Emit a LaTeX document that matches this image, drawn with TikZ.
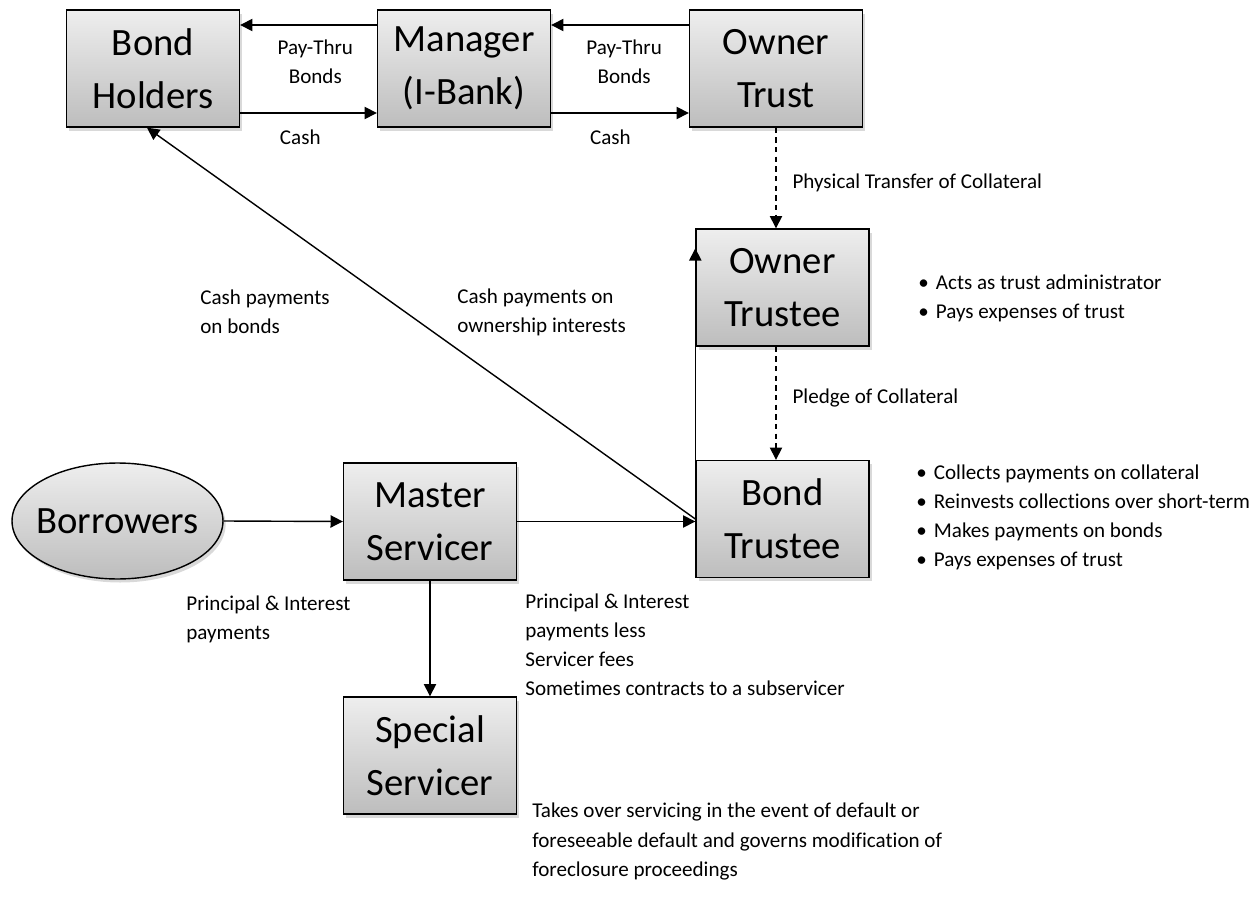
\documentclass[tikz,border=0pt]{standalone}
\usepackage{fontspec}
\setmainfont{Carlito}[Ligatures=NoCommon]
\usetikzlibrary{calc,positioning,shapes.geometric,arrows.meta,shadows}
\definecolor{boxtop}{HTML}{EEEEEE}
\definecolor{boxbot}{HTML}{BDBDBD}

\begin{document}
\begin{tikzpicture}[x=0.02cm, y=-0.02cm,
  ent/.style={draw, line width=0.8pt, top color=boxtop, bottom color=boxbot, minimum width=3.46cm, minimum height=2.34cm, inner sep=0pt, align=center, font=\fontsize{22}{30}\selectfont, drop shadow={shadow xshift=1.5pt, shadow yshift=-2pt, opacity=0.3}},
  arrow/.style={-{Triangle[length=7pt,width=7pt]}, line width=0.8pt},
  dsh/.style={arrow, dash pattern=on 3pt off 2.5pt},
  lab/.style={font=\fontsize{12}{16.6}\selectfont, inner sep=0pt, align=left}
]
\useasboundingbox (0,0) rectangle (1258,909);

\node[ent] (bh) at (153,68.5) {Bond\\Holders};
\node[ent] (mgr) at (464,68.5) {Manager\\(I-Bank)};
\node[ent] (otr) at (776,68.5) {Owner\\Trust};
\node[ent] (ote) at (782.5,287.5) {Owner\\Trustee};
\node[ent] (btr) at (782.5,519) {Bond\\Trustee};
\node[ent] (ms) at (430,521.5) {Master\\Servicer};
\node[ent] (ss) at (430,755.5) {Special\\Servicer};
\node[ent, ellipse, minimum width=4.22cm, minimum height=2.32cm] (bor) at (117.5,521) {\makebox[2.6cm]{Borrowers}};

\draw[arrow] ([yshift=0.87cm]mgr.west) -- node[lab, align=center, pos=0.45, below=8pt]{Pay-Thru\\Bonds} ([yshift=0.87cm]bh.east);
\draw[arrow] ([yshift=-0.89cm]bh.east) -- node[lab, pos=0.44, below=9pt]{Cash} ([yshift=-0.89cm]mgr.west);
\draw[arrow] ([yshift=0.87cm]otr.west) -- node[lab, align=center, pos=0.47, below=8pt]{Pay-Thru\\Bonds} ([yshift=0.87cm]mgr.east);
\draw[arrow] ([yshift=-0.89cm]mgr.east) -- node[lab, pos=0.43, below=9pt]{Cash} ([yshift=-0.89cm]otr.west);
\draw[dsh] (otr.south) -- node[lab, pos=0.55, right=9pt]{Physical Transfer of Collateral} (otr.south |- ote.north);
\draw[dsh] (ote.south -| otr.south) -- node[lab, pos=0.45, right=9pt]{Pledge of Collateral} (btr.north -| otr.south);
\draw[arrow] (btr.north west) -- ([yshift=-0.4cm]ote.north west);
\draw[arrow] (bor.east) -- (ms.west);
\draw[arrow] (ms.east) -- (ms.east -| btr.west);
\draw[arrow] (btr.west) -- ($(bh.south)+(-6,0)$);
\draw[arrow] (ms.south) -- (ss.north);

\node[lab, anchor=west] (cpb) at (200,312) {Cash payments\\on bonds};
\node[lab, anchor=west] (cpo) at (457,312) {Cash payments on\\ownership interests};
\node[lab, anchor=west] (pi) at (186,619) {Principal \& Interest\\payments};
\node[lab, anchor=west] (pil) at (525,645) {Principal \& Interest\\payments less\\Servicer fees\\Sometimes contracts to a subservicer};
\node[lab, anchor=west] (otenote) at (918,298) {\textbullet\hspace{4pt}Acts as trust administrator\\\textbullet\hspace{4pt}Pays expenses of trust};
\node[lab, anchor=west] (btrnote) at (916,517.5) {\textbullet\hspace{4pt}Collects payments on collateral\\\textbullet\hspace{4pt}Reinvests collections over short-term\\\textbullet\hspace{4pt}Makes payments on bonds\\\textbullet\hspace{4pt}Pays expenses of trust};
\node[lab, anchor=west] (ssnote) at (532,841.5) {Takes over servicing in the event of default or\\foreseeable default and governs modification of\\foreclosure proceedings};
\end{tikzpicture}
\end{document}
